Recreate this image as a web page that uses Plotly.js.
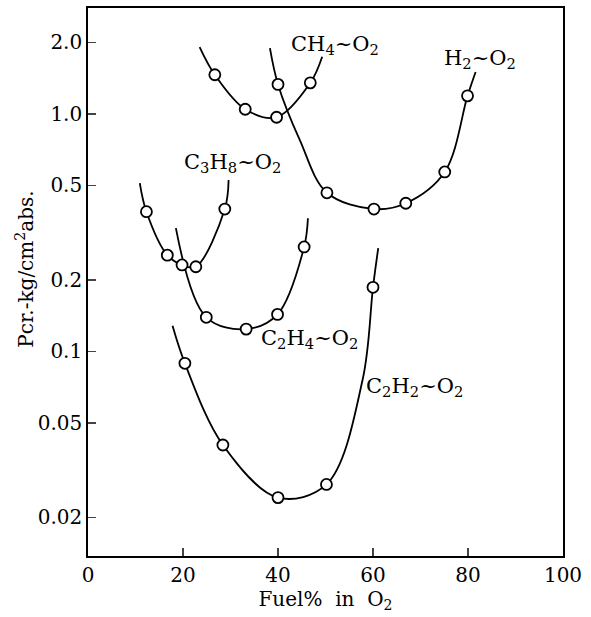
<!DOCTYPE html>
<html>
<head>
<meta charset="utf-8">
<script src="https://cdn.plot.ly/plotly-3.0.1.min.js"></script>
<style>html,body{margin:0;padding:0;background:#fff;}#chart{width:591px;height:617px;}</style>
</head>
<body>
<div id="chart"></div>
<script>
// Measured points (Fuel % in O2, Pcr kg/cm2 abs.)
const ch4X = [26.7, 33.1, 39.7, 46.8];
const ch4Y = [1.46, 1.045, 0.967, 1.35];
const h2X = [40.0, 50.3, 60.2, 66.9, 75.1, 79.9];
const h2Y = [1.33, 0.465, 0.397, 0.42, 0.569, 1.19];
const c3h8X = [12.3, 16.7, 19.8, 22.7, 28.8];
const c3h8Y = [0.387, 0.254, 0.231, 0.227, 0.397];
const c2h4X = [24.9, 33.3, 39.9, 45.5];
const c2h4Y = [0.139, 0.124, 0.143, 0.275];
const c2h2X = [20.4, 28.4, 40.0, 50.2, 60.0];
const c2h2Y = [0.089, 0.0403, 0.0242, 0.0275, 0.186];

// Drawn fitted curves (incl. their ends)
const ch4CurveX = [23.5, 26.7, 33.1, 39.7, 46.8, 49.3];
const ch4CurveY = [1.91, 1.46, 1.045, 0.967, 1.35, 1.74];
const h2CurveX = [38.3, 40.0, 44.6, 50.3, 60.2, 66.9, 75.1, 79.9, 81.6];
const h2CurveY = [1.89, 1.33, 0.775, 0.465, 0.397, 0.42, 0.569, 1.19, 1.50];
const c3h8CurveX = [10.9, 12.3, 16.7, 19.8, 22.7, 28.8, 29.6];
const c3h8CurveY = [0.511, 0.387, 0.254, 0.231, 0.227, 0.397, 0.526];
const c2h4CurveX = [18.5, 24.9, 33.3, 39.9, 45.5, 46.3];
const c2h4CurveY = [0.330, 0.139, 0.124, 0.143, 0.275, 0.363];
const c2h2CurveX = [17.8, 20.4, 28.4, 40.0, 50.2, 57.8, 60.0, 61.1];
const c2h2CurveY = [0.128, 0.089, 0.0403, 0.0242, 0.0275, 0.0757, 0.186, 0.272];

const yTickVals = [0.02, 0.05, 0.1, 0.2, 0.5, 1, 2];
const yTickText = ["0.02", "0.05", "0.1", "0.2", "0.5", "1.0", "2.0"];
const xTickVals = [0, 20, 40, 60, 80, 100];

const FONT = "DejaVu Serif, Liberation Serif, serif";

function curve(x, y) {
  return {x: x, y: y, mode: 'lines', type: 'scatter', hoverinfo: 'skip',
          line: {color: '#000', width: 1.8, shape: 'spline', smoothing: 1.0}, showlegend: false};
}
function pts(x, y) {
  return {x: x, y: y, mode: 'markers', type: 'scatter', showlegend: false,
          marker: {symbol: 'circle', size: 11, color: '#fff', line: {color: '#000', width: 1.8}}};
}

const data = [
  curve(ch4CurveX, ch4CurveY), curve(h2CurveX, h2CurveY), curve(c3h8CurveX, c3h8CurveY),
  curve(c2h4CurveX, c2h4CurveY), curve(c2h2CurveX, c2h2CurveY),
  pts(ch4X, ch4Y), pts(h2X, h2Y), pts(c3h8X, c3h8Y), pts(c2h4X, c2h4Y), pts(c2h2X, c2h2Y)
];

function lab(text, x, y, xanchor) {
  return {text: text, x: x, y: Math.log10(y), xref: 'x', yref: 'y', showarrow: false,
          xanchor: xanchor || 'left', yanchor: 'middle', font: {family: FONT, size: 21, color: '#000'}};
}

const layout = {
  width: 591, height: 617,
  margin: {l: 88, r: 28, t: 8, b: 61},
  paper_bgcolor: '#fff', plot_bgcolor: '#fff',
  font: {family: FONT, color: '#000', size: 20},
  xaxis: {
    range: [0, 100], tickvals: xTickVals, ticks: 'inside', ticklen: 8, tickwidth: 1.5,
    showline: true, linecolor: '#000', linewidth: 1.8, mirror: true, showgrid: false, zeroline: false,
    tickfont: {family: FONT, size: 20},
    title: {text: 'Fuel%  in  O<sub>2</sub>', font: {family: FONT, size: 20}, standoff: 6}
  },
  yaxis: {
    type: 'log', range: [-1.862, 0.4455], tickvals: yTickVals, ticktext: yTickText,
    ticks: 'inside', ticklen: 8, tickwidth: 1.5,
    showline: true, linecolor: '#000', linewidth: 1.8, mirror: true, showgrid: false, zeroline: false,
    tickfont: {family: FONT, size: 20}
  },
  annotations: [
    {text: 'Pcr.-kg/cm<sup>2</sup>abs.', xref: 'paper', yref: 'paper', x: -0.133, y: 0.524,
     xanchor: 'center', yanchor: 'middle', textangle: -90, showarrow: false,
     font: {family: FONT, size: 20, color: '#000'}},
    lab('CH<sub>4</sub>~O<sub>2</sub>', 42.3, 1.95),
    lab('H<sub>2</sub>~O<sub>2</sub>', 74.5, 1.7),
    lab('C<sub>3</sub>H<sub>8</sub>~O<sub>2</sub>', 19.7, 0.62),
    lab('C<sub>2</sub>H<sub>4</sub>~O<sub>2</sub>', 36.0, 0.113),
    lab('C<sub>2</sub>H<sub>2</sub>~O<sub>2</sub>', 58.2, 0.071)
  ]
};

Plotly.newPlot('chart', data, layout, {displayModeBar: false, staticPlot: true});
</script>
</body>
</html>
